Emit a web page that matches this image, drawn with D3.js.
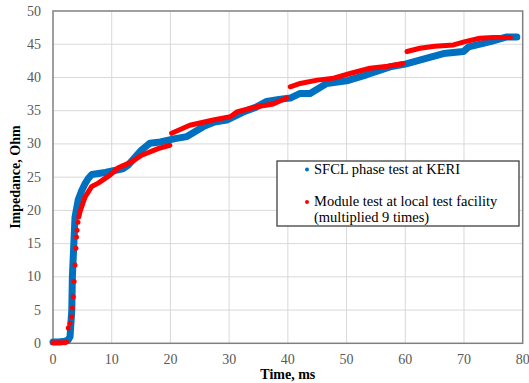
<!DOCTYPE html>
<html>
<head>
    <meta charset="utf-8">
    <title>Impedance</title>
    <script src="https://cdnjs.cloudflare.com/ajax/libs/d3/7.8.5/d3.min.js"></script>
    <style>
        body { margin: 0; background: #fff; }
    </style>
</head>
<body>
<script type="text/javascript">
    var width = 529,
        height = 383,
        serif = "'Liberation Serif', 'Times New Roman', 'DejaVu Serif', serif";

    var xTicks = [0, 10, 20, 30, 40, 50, 60, 70, 80],
        yTicks = [0, 5, 10, 15, 20, 25, 30, 35, 40, 45, 50];

    // SFCL phase test at KERI (time ms, impedance Ohm)
    var keriTime = [0, 1, 2, 2.6, 2.9, 3.2, 3.3, 3.5, 3.75, 4.3, 4.9, 5.45, 6.0, 6.6, 8.9, 10.5, 12.0, 12.8,
                    15.1, 16.5, 18.3, 20.8, 22.8, 25.6, 27.5, 29.6, 32.4, 34.5, 36.4, 38.5, 40.4, 42.1, 43.8,
                    46.6, 50.0, 53.4, 57.4, 60.0, 63.7, 66.5, 69.9, 70.8, 74.5, 77.3, 79.0];
    var keriImp = [0.2, 0.2, 0.3, 0.5, 1.0, 5.0, 10, 14, 19, 21.6, 23, 24, 24.8, 25.4, 25.7, 26.0, 26.3, 26.8,
                   29.1, 30.1, 30.3, 30.8, 31.1, 32.6, 33.3, 33.6, 34.8, 35.5, 36.4, 36.7, 36.9, 37.6, 37.6,
                   39.1, 39.5, 40.4, 41.6, 42.0, 42.9, 43.6, 43.9, 44.6, 45.4, 46.1, 46.1];

    // Module test at local test facility (x9), split where the trace jumps
    var modRiseTime = [0, 0.4, 0.8, 1.2, 1.6, 2.0, 2.3, 2.6, 2.9, 3.2, 3.3, 3.46, 3.6, 3.75, 3.9, 4.0, 4.1, 4.25],
        modRiseImp = [0.1, 0.1, 0.1, 0.1, 0.1, 0.1, 0.2, 2.3, 3.0, 4.0, 5.3, 7.0, 9.3, 11.8, 14.3, 16.0, 17.0, 18.2];
    var modSeg1Time = [4.4, 4.6, 5.45, 6.6, 7.7, 9.7, 11.1, 13.4, 15.1, 17.9, 19.9],
        modSeg1Imp = [19.0, 19.8, 22.0, 23.6, 24.1, 25.3, 26.4, 27.3, 28.3, 29.3, 29.8];
    var modSeg2Time = [20.2, 23.3, 27.3, 30.2, 31.3, 34.7, 37.5, 39.8],
        modSeg2Imp = [31.6, 32.8, 33.6, 34.1, 34.8, 35.6, 36.0, 36.9];
    var modSeg3Time = [40.4, 42.1, 45.0, 47.8, 50.6, 54.0, 57.0, 59.7],
        modSeg3Imp = [38.6, 39.1, 39.6, 39.9, 40.6, 41.4, 41.7, 42.1];
    var modSeg4Time = [60.3, 62.5, 65.0, 68.2, 70.2, 72.7, 75.0, 77.9],
        modSeg4Imp = [43.9, 44.4, 44.7, 44.9, 45.4, 45.9, 46.0, 46.0];

    var legendLabels = ["SFCL phase test at KERI", "Module test at local test facility", "(multiplied 9 times)"];

    var blue = "#0070c0",
        red = "#ff0000";

    var x = d3.scaleLinear().domain([0, 80]).range([53, 522.7]),
        y = d3.scaleLinear().domain([0, 50]).range([343.3, 11]);

    var svg = d3.select("body").append("svg")
        .attr("width", width)
        .attr("height", height)
        .style("font-family", serif);

    function zip(xs, ys) {
        return xs.map(function(v, i) { return {x: v, y: ys[i]}; });
    }

    // grid
    svg.append("g").selectAll("line")
        .data(xTicks.slice(1, -1))
        .enter().append("line")
        .attr("x1", function(d) { return x(d); })
        .attr("x2", function(d) { return x(d); })
        .attr("y1", y(0)).attr("y2", y(50))
        .attr("stroke", "#d9d9d9").attr("stroke-width", 1);

    svg.append("g").selectAll("line")
        .data(yTicks.slice(1, -1))
        .enter().append("line")
        .attr("y1", function(d) { return y(d); })
        .attr("y2", function(d) { return y(d); })
        .attr("x1", x(0)).attr("x2", x(80))
        .attr("stroke", "#d9d9d9").attr("stroke-width", 1);

    // plot frame
    svg.append("rect")
        .attr("x", x(0)).attr("y", y(50))
        .attr("width", x(80) - x(0)).attr("height", y(0) - y(50))
        .attr("fill", "none").attr("stroke", "#808080").attr("stroke-width", 1.5);

    // tick labels
    svg.append("g").selectAll("text")
        .data(xTicks)
        .enter().append("text")
        .attr("x", function(d) { return x(d); })
        .attr("y", 364)
        .attr("text-anchor", "middle")
        .attr("font-family", serif)
        .attr("font-size", 14)
        .attr("fill", "#595959")
        .text(function(d) { return d; });

    svg.append("g").selectAll("text")
        .data(yTicks)
        .enter().append("text")
        .attr("x", 41)
        .attr("y", function(d) { return y(d) + 4.5; })
        .attr("text-anchor", "end")
        .attr("font-family", serif)
        .attr("font-size", 14)
        .attr("fill", "#595959")
        .text(function(d) { return d; });

    // axis titles
    svg.append("text")
        .attr("x", x(40)).attr("y", 379)
        .attr("text-anchor", "middle")
        .attr("font-family", serif)
        .attr("font-size", 14).attr("font-weight", "bold")
        .attr("fill", "#000")
        .text("Time, ms");

    svg.append("text")
        .attr("transform", "translate(20," + y(25) + ") rotate(-90)")
        .attr("text-anchor", "middle")
        .attr("font-family", serif)
        .attr("font-size", 14).attr("font-weight", "bold")
        .attr("fill", "#000")
        .text("Impedance, Ohm");

    var line = d3.line()
        .x(function(d) { return x(d.x); })
        .y(function(d) { return y(d.y); });

    // KERI series
    svg.append("path")
        .attr("d", line(zip(keriTime, keriImp)))
        .attr("fill", "none").attr("stroke", blue)
        .attr("stroke-width", 7)
        .attr("stroke-linecap", "round").attr("stroke-linejoin", "round");

    // module series
    [[modSeg1Time, modSeg1Imp], [modSeg2Time, modSeg2Imp], [modSeg3Time, modSeg3Imp], [modSeg4Time, modSeg4Imp]]
        .forEach(function(s) {
            svg.append("path")
                .attr("d", line(zip(s[0], s[1])))
                .attr("fill", "none").attr("stroke", red)
                .attr("stroke-width", 5)
                .attr("stroke-linecap", "round").attr("stroke-linejoin", "round");
        });

    svg.append("g").selectAll("circle")
        .data(zip(modRiseTime, modRiseImp))
        .enter().append("circle")
        .attr("cx", function(d) { return x(d.x); })
        .attr("cy", function(d) { return y(d.y); })
        .attr("r", 2.5)
        .attr("fill", red);

    // legend
    var lg = svg.append("g");
    lg.append("rect")
        .attr("x", 277).attr("y", 161)
        .attr("width", 242).attr("height", 65)
        .attr("fill", "#fff").attr("stroke", "#404040").attr("stroke-width", 1.3);

    lg.append("circle").attr("cx", 307).attr("cy", 169.5).attr("r", 2).attr("fill", blue);
    lg.append("circle").attr("cx", 307).attr("cy", 202).attr("r", 2).attr("fill", red);

    lg.selectAll("text")
        .data(legendLabels)
        .enter().append("text")
        .attr("x", 314)
        .attr("y", function(d, i) { return [174, 206, 222][i]; })
        .attr("font-family", serif)
        .attr("font-size", 14.5)
        .attr("fill", "#000")
        .text(function(d) { return d; });
</script>
</body>
</html>
